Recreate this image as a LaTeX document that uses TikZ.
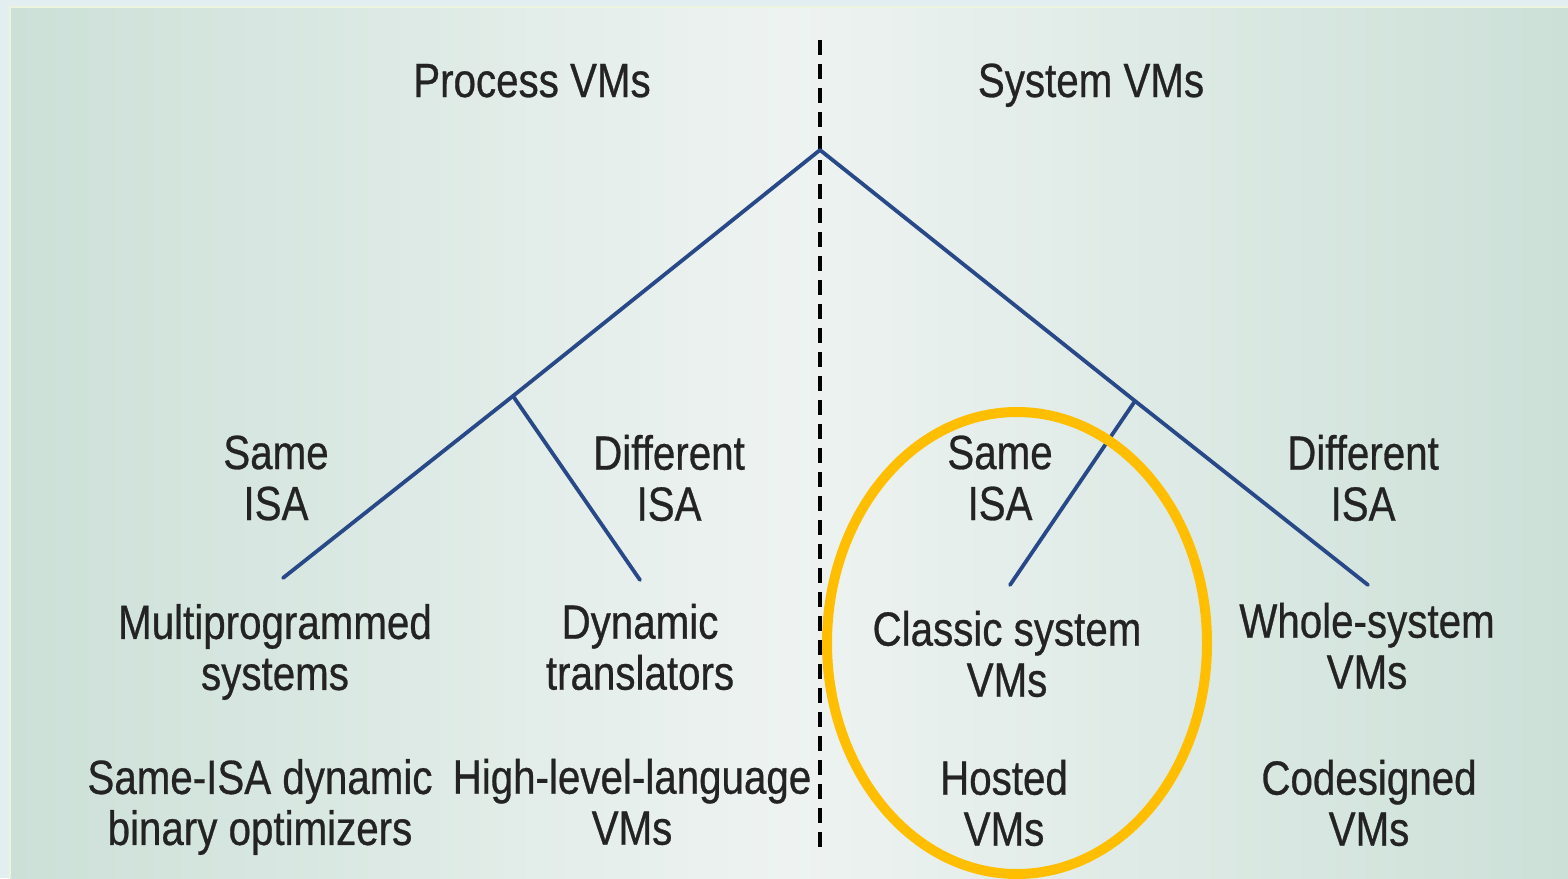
\documentclass[tikz,border=0pt]{standalone}
\usepackage{fontspec}
\setmainfont{Liberation Sans}[FakeStretch=0.84,FakeBold=0.6]
\usetikzlibrary{shapes.geometric}
\definecolor{outerbg}{RGB}{227,238,240}
\definecolor{edgebg}{RGB}{204,224,216}
\definecolor{midbg}{RGB}{238,243,241}
\definecolor{framecol}{RGB}{236,244,222}
\definecolor{treeblue}{RGB}{40,72,135}
\definecolor{circcol}{RGB}{255,190,0}
\definecolor{txt}{RGB}{35,35,35}
\tikzset{
  lbl/.style={align=center, inner sep=0pt, text=txt, font=\fontsize{24pt}{25.5pt}\selectfont},
  branch/.style={draw=treeblue, line width=1.9pt, line cap=round},
  divider/.style={draw=black, line width=1.6pt, dash pattern=on 7.5pt off 4.5pt},
  ring/.style={draw=circcol, line width=5pt}
}
\begin{document}
\begin{tikzpicture}[x=0.5pt,y=-0.5pt]
\useasboundingbox (0,0) rectangle (1568,878);
% background
\fill[outerbg] (0,0) rectangle (1568,878);
\shade[left color=edgebg, right color=edgebg, middle color=midbg] (10,7) rectangle (1568,878);
\draw[framecol, line width=1pt] (9.5,878) -- (9.5,6.5) -- (1568,6.5);
% divider
\coordinate (dtop) at (820,40);
\coordinate (dbot) at (820,852);
\draw[divider] (dtop) -- (dbot);
% tree points
\coordinate (apex) at (820,150);
\coordinate (lj) at (513,396);
\coordinate (ll) at (283,578);
\coordinate (lr) at (640,580);
\coordinate (rj) at (1135,401);
\coordinate (rl) at (1010,585);
\coordinate (rr) at (1368,585);
\draw[branch] (apex) -- (lj) -- (ll);
\draw[branch] (lj) -- (lr);
\draw[branch] (apex) -- (rj) -- (rr);
\draw[branch] (rj) -- (rl);
% headings
\node[lbl, anchor=base] (pvm) at (532,97) {Process VMs};
\node[lbl, anchor=base] (svm) at (1091,97) {System VMs};
% ISA labels
\node[lbl] (lsame) at (276,478) {Same\\ISA};
\node[lbl] (ldiff) at (669,478) {Different\\ISA};
\node[lbl] (rsame) at (1000,478) {Same\\ISA};
\node[lbl] (rdiff) at (1363,478) {Different\\ISA};
% leaves
\node[lbl] (multi) at (275,652) {Multiprogrammed\\systems};
\node[lbl] (dyn) at (640,647) {Dynamic\\translators};
\node[lbl] (classic) at (1007,654) {Classic system\\VMs};
\node[lbl] (whole) at (1367,646) {Whole-system\\VMs};
% bottom row
\node[lbl] (sameopt) at (260,807) {Same-ISA dynamic\\binary optimizers};
\node[lbl] (hll) at (632,802) {High-level-language\\VMs};
\node[lbl] (hosted) at (1004,803) {Hosted\\VMs};
\node[lbl] (codes) at (1369,803) {Codesigned\\VMs};
% highlight ring
\node[ring, ellipse, minimum width=190pt, minimum height=231pt, inner sep=0pt] (hl) at (1017,643) {};
\end{tikzpicture}
\end{document}
